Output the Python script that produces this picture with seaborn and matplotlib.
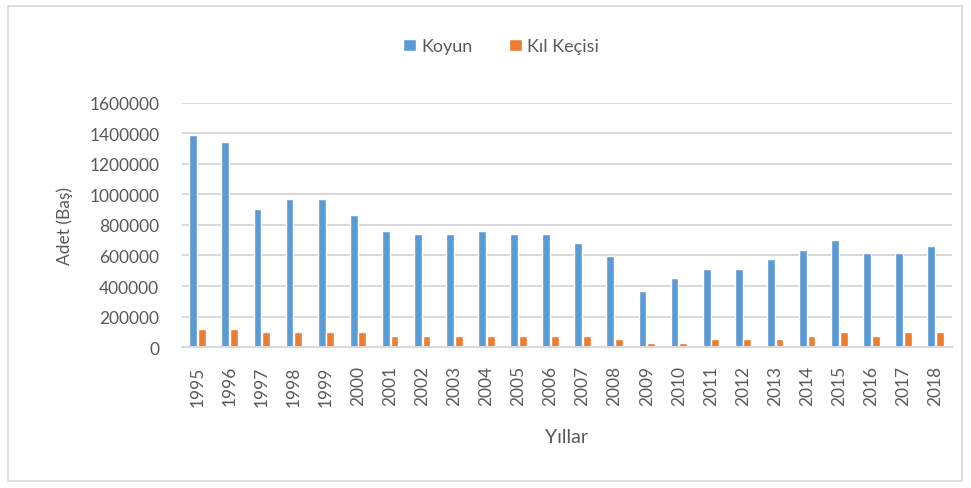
import pandas as pd
import numpy as np
import matplotlib.pyplot as plt
import seaborn as sns
from matplotlib.patches import Rectangle

# Values
years = [str(y) for y in range(1995, 2019)]
koyun = [1390000, 1345000, 905000, 970000, 970000, 865000, 760000, 740000,
         740000, 760000, 740000, 740000, 680000, 595000, 365000, 450000,
         510000, 510000, 575000, 635000, 700000, 615000, 615000, 660000]
kil_kecisi = [118000, 118000, 98000, 98000, 98000, 98000, 75000, 75000,
              75000, 75000, 75000, 75000, 75000, 55000, 30000, 30000,
              52000, 52000, 52000, 75000, 98000, 75000, 98000, 98000]

df = pd.DataFrame({
    'Yıl': years * 2,
    'Adet': koyun + kil_kecisi,
    'Tür': ['Koyun'] * len(years) + ['Kıl Keçisi'] * len(years),
})

sns.set_style('white')
plt.rcParams['font.family'] = ['Lato', 'DejaVu Sans']

fig = plt.figure(figsize=(9.71, 4.89), dpi=100)
ax = fig.add_axes([0.187, 0.288, 0.793, 0.5])

sns.barplot(data=df, x='Yıl', y='Adet', hue='Tür',
            palette=['#5B9BD5', '#ED7D31'], width=0.54, gap=0.1,
            saturation=1, ax=ax)

ax.set_ylim(0, 1600000)
ax.set_yticks(np.arange(0, 1600001, 200000))
ax.set_yticklabels([str(v) for v in range(0, 1600001, 200000)])
ax.yaxis.grid(True, color='#D9D9D9', linewidth=1.5)
ax.set_axisbelow(True)
for s in ['top', 'right', 'left']:
    ax.spines[s].set_visible(False)
ax.spines['bottom'].set_color('#D9D9D9')
ax.spines['bottom'].set_linewidth(1.5)
ax.tick_params(axis='both', length=0, colors='#595959', labelsize=12.5)
ax.tick_params(axis='y', pad=16)
ax.tick_params(axis='x', pad=13)
plt.setp(ax.get_xticklabels(), rotation=90)

ax.set_xlabel('Yıllar', fontsize=14, color='#595959', labelpad=16)
ax.set_ylabel('Adet (Baş)', fontsize=12.5, color='#595959', labelpad=12)

leg = ax.legend(loc='upper center', bbox_to_anchor=(0.415, 1.33), ncol=2,
                frameon=False, fontsize=13, handlelength=0.7,
                handleheight=0.7, columnspacing=2.0, handletextpad=0.3)
for t in leg.get_texts():
    t.set_color('#595959')

fig.patches.append(Rectangle((0.008, 0.015), 0.983, 0.97, transform=fig.transFigure,
                             fill=False, edgecolor='#D9D9D9', linewidth=1.2))

plt.savefig('out.png', dpi=100)
